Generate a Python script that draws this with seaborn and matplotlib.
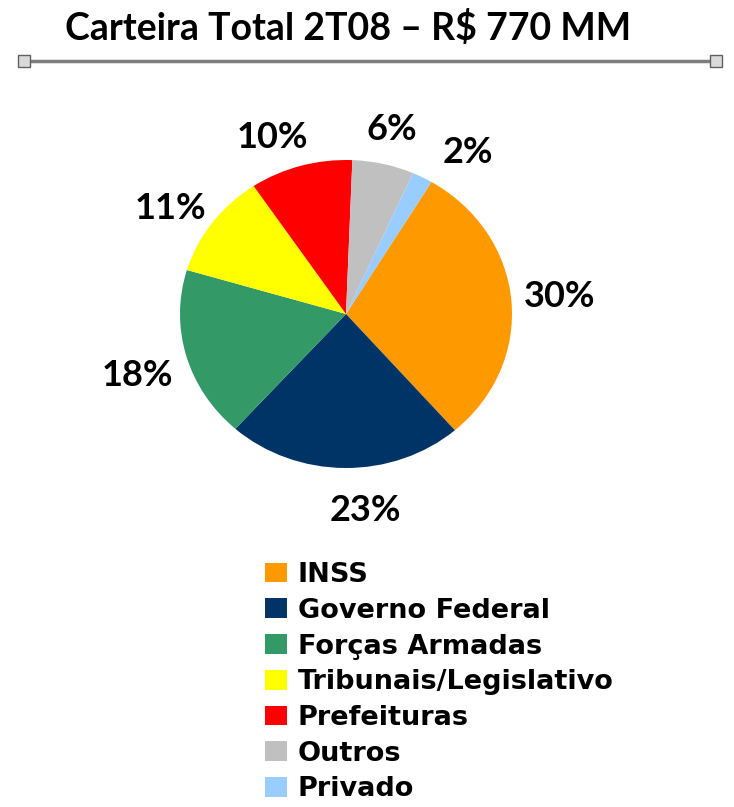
import matplotlib
matplotlib.use("Agg")
import numpy as np
import matplotlib.pyplot as plt
import seaborn as sns
from matplotlib.lines import Line2D

# --- DATOS ---
categorias = ["INSS", "Governo Federal", "Forças Armadas", "Tribunais/Legislativo",
              "Prefeituras", "Outros", "Privado"]
porcentajes = [30, 23, 18, 11, 10, 6, 2]
colores = ["#FF9900", "#003366", "#339966", "#FFFF00", "#FF0000", "#C0C0C0", "#99CCFF"]
titulo = "Carteira Total 2T08 – R$ 770 MM"

sns.set_theme(style="white")
plt.rcParams["font.family"] = ["Lato", "DejaVu Sans"]
plt.rcParams["text.color"] = "black"

W, H = 734, 807
fig = plt.figure(figsize=(W / 100, H / 100), dpi=100)

# ejes en pixeles: x 100..600, y 100..530 (desde arriba)
ax = fig.add_axes([100 / W, 1 - 530 / H, 500 / W, 430 / H])
palette = sns.color_palette(colores)
wedges, texts, autotexts = ax.pie(
    porcentajes, colors=palette, startangle=59, counterclock=False,
    autopct=lambda p: f"{p:.0f}%", pctdistance=1.27,
    wedgeprops=dict(linewidth=0, edgecolor="none"),
    textprops=dict(fontsize=26, fontweight="bold", color="black"))
ax.set_aspect("auto")
cx, cy, rx, ry = 346, 314, 166, 154
ax.set_xlim((100 - cx) / rx, (600 - cx) / rx)
ax.set_ylim(-(530 - cy) / ry, (cy - 100) / ry)
ax.axis("off")

# ajuste fino de las etiquetas (giro en grados, distancia al centro)
ajustes = [(0, 1.29), (5.5, 1.28), (1.9, 1.32), (3.6, 1.26), (5.4, 1.23), (0, 1.23), (-7.7, 1.28)]
for t, (giro, dist) in zip(autotexts, ajustes):
    x, y = t.get_position()
    ang = np.arctan2(y, x) + np.radians(giro)
    t.set_position((dist * np.cos(ang), dist * np.sin(ang)))

# titulo y linea
fig.text(348 / W, 1 - 28 / H, titulo, ha="center", va="center",
         fontsize=27, fontweight="bold", color="black")
linea = Line2D([24 / W, 716 / W], [1 - 61 / H, 1 - 61 / H], transform=fig.transFigure,
               color="#7f7f7f", lw=2.5, marker="s", markersize=8,
               markerfacecolor="#d9d9d9", markeredgecolor="#606060", markevery=[0, 1])
fig.add_artist(linea)

# leyenda
fig.legend(wedges, categorias, loc="upper left",
           bbox_to_anchor=(265 / W, 1 - 562 / H), frameon=False,
           prop=dict(family="DejaVu Sans", size=19.5, weight="bold"),
           labelcolor="black", handlelength=0.8, handleheight=0.75,
           handletextpad=0.4, labelspacing=0.36, borderpad=0, borderaxespad=0)

plt.savefig("out.png", dpi=100)
plt.close()
